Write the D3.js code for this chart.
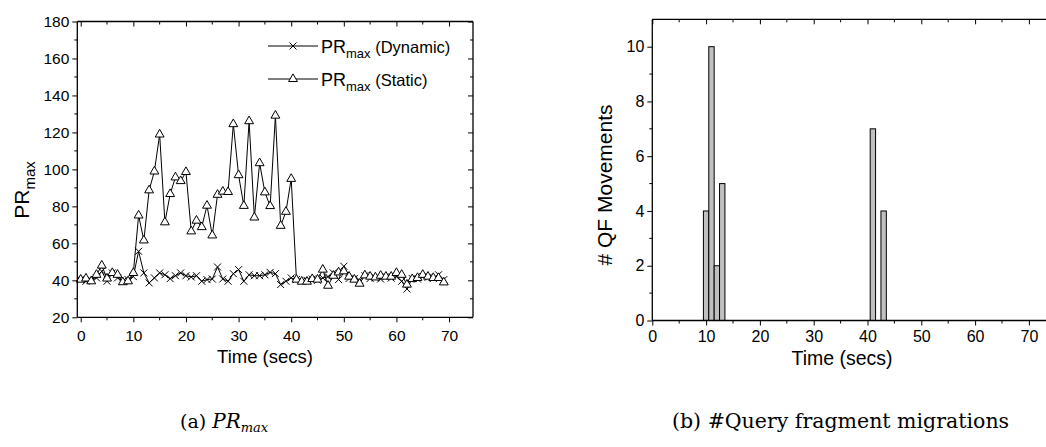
<!DOCTYPE html>
<html>
<head>
<meta charset="utf-8">
<script src="https://cdn.jsdelivr.net/npm/d3@7/dist/d3.min.js"></script>
<style>
  html, body { margin: 0; padding: 0; background: #fff; }
  svg { display: block; }
  text { fill: #000; }
</style>
</head>
<body>
<svg id="fig" width="1046" height="447"></svg>
<script>
// Time axis (seconds) shared by both series of the left panel
const seconds = d3.range(0, 70);

// PR_max with dynamic query-fragment placement
const prDynamic = [
  40.4, 39.5, 40.0, 41.3, 44.9, 39.5, 44.0, 41.3, 39.5, 40.4,
  42.0, 55.7, 44.0, 38.6, 41.3, 44.0, 43.0, 40.9, 42.5, 44.0,
  42.5, 41.8, 42.5, 39.5, 40.4, 40.7, 47.2, 40.7, 39.5, 43.6,
  45.8, 39.5, 43.0, 42.5, 42.5, 43.0, 44.3, 43.6, 37.7, 39.5,
  41.3, 40.4, 39.5, 40.0, 40.7, 40.0, 41.3, 42.0, 44.0, 40.4,
  47.6, 41.0, 41.0, 40.0, 42.5, 41.0, 41.4, 40.7, 42.0, 41.2,
  42.0, 39.5, 35.3, 41.0, 40.7, 42.0, 41.6, 41.0, 43.0, 40.4
];

// PR_max with static placement
const prStatic = [
  40.4, 41.0, 39.5, 43.0, 48.0, 41.0, 44.0, 43.0, 39.0, 39.5,
  44.0, 75.1, 61.6, 88.7, 98.9, 118.9, 71.4, 86.7, 95.7, 93.7,
  98.6, 66.5, 72.3, 68.8, 80.4, 64.3, 86.3, 88.0, 87.8, 124.5,
  96.9, 80.3, 126.1, 74.0, 103.4, 87.6, 80.2, 129.1, 69.5, 77.1,
  94.9, 40.4, 39.3, 39.3, 40.7, 40.4, 45.8, 37.1, 42.5, 44.3,
  44.9, 42.0, 40.4, 38.2, 42.7, 42.0, 41.6, 42.5, 42.0, 42.0,
  44.0, 43.0, 37.7, 40.7, 41.3, 43.0, 42.0, 41.3, 41.3, 38.9
];

// Query fragment movements per second (right panel)
const moveTimes = [10, 11, 12, 13, 41, 43];
const moveCounts = [4, 10, 2, 5, 7, 4];

// Tick values
const leftXTicks = [0, 10, 20, 30, 40, 50, 60, 70];
const leftYTicks = [20, 40, 60, 80, 100, 120, 140, 160, 180];
const rightXTicks = [0, 10, 20, 30, 40, 50, 60, 70];
const rightYTicks = [0, 2, 4, 6, 8, 10];

const svg = d3.select("#fig");
const SANS = "'Liberation Sans', Arial, sans-serif";
const SERIF = "'DejaVu Serif', 'Liberation Serif', serif";

// Draws a framed Origin-style plot: outward ticks on bottom/left,
// inward mirror ticks on top/right, minor ticks halfway between majors.
function frame(g, x, y, xt, yt, opts) {
  const [x0, x1] = x.range();
  const [y0, y1] = y.range(); // y0 bottom, y1 top
  const majL = 5, minL = 3;
  const xMinor = xt.slice(0, -1).map((v, i) => (v + xt[i + 1]) / 2)
    .concat([xt[xt.length - 1] + (xt[1] - xt[0]) / 2]);
  const yMinor = yt.slice(0, -1).map((v, i) => (v + yt[i + 1]) / 2);
  const xDom = x.domain(), yDom = y.domain();
  const inX = v => v >= xDom[0] && v <= xDom[1];
  const inY = v => v >= yDom[0] && v <= yDom[1];

  // bottom axis
  const bx = g.append("g").attr("transform", `translate(0,${y0})`)
    .call(d3.axisBottom(x).tickValues(xt).tickSize(majL).tickPadding(opts.xPad).tickFormat(d3.format("d")));
  bx.select(".domain").remove();
  bx.selectAll("text").attr("font-family", SANS).attr("font-size", opts.tickFont);
  // left axis
  const ly = g.append("g").attr("transform", `translate(${x0},0)`)
    .call(d3.axisLeft(y).tickValues(yt).tickSize(majL).tickPadding(3).tickFormat(d3.format("d")));
  ly.select(".domain").remove();
  ly.selectAll("text").attr("font-family", SANS).attr("font-size", opts.tickFont);
  // top axis ticks (inward)
  const tx = g.append("g").attr("transform", `translate(0,${y1})`)
    .call(d3.axisBottom(x).tickValues(xt).tickSize(majL).tickFormat(""));
  tx.select(".domain").remove();
  // right axis ticks (inward)
  if (opts.rightBorder) {
    const ry = g.append("g").attr("transform", `translate(${x1},0)`)
      .call(d3.axisLeft(y).tickValues(yt).tickSize(majL).tickFormat(""));
    ry.select(".domain").remove();
  }
  // minor ticks
  const mt = g.append("g").attr("stroke", "#000").attr("stroke-width", 1);
  xMinor.filter(inX).forEach(v => {
    mt.append("line").attr("x1", x(v)).attr("x2", x(v)).attr("y1", y0).attr("y2", y0 + minL);
    mt.append("line").attr("x1", x(v)).attr("x2", x(v)).attr("y1", y1).attr("y2", y1 + minL);
  });
  yMinor.filter(inY).forEach(v => {
    mt.append("line").attr("x1", x0 - minL).attr("x2", x0).attr("y1", y(v)).attr("y2", y(v));
    if (opts.rightBorder)
      mt.append("line").attr("x1", x1 - minL).attr("x2", x1).attr("y1", y(v)).attr("y2", y(v));
  });
  // frame lines
  const fr = g.append("g").attr("stroke", "#000").attr("stroke-width", 1.3).attr("fill", "none");
  fr.append("line").attr("x1", x0).attr("x2", x1).attr("y1", y0).attr("y2", y0);
  fr.append("line").attr("x1", x0).attr("x2", x1).attr("y1", y1).attr("y2", y1);
  fr.append("line").attr("x1", x0).attr("x2", x0).attr("y1", y0).attr("y2", y1);
  if (opts.rightBorder)
    fr.append("line").attr("x1", x1).attr("x2", x1).attr("y1", y0).attr("y2", y1);
  g.selectAll(".tick line").attr("stroke", "#000").attr("stroke-width", 1);
}

// ---------- Left panel: PR_max over time ----------
const xL = d3.scaleLinear().domain([-0.65, 74.55]).range([77.3, 473]);
const yL = d3.scaleLinear().domain([20, 180]).range([317.3, 21.5]);
const gL = svg.append("g");

const triangle = d3.symbol().type(d3.symbolTriangle).size(34);
const lineGen = (vals) => d3.line().x((d, i) => xL(seconds[i])).y(d => yL(d))(vals);

// static series line
gL.append("path").attr("d", lineGen(prStatic))
  .attr("fill", "none").attr("stroke", "#000").attr("stroke-width", 1);
// dynamic series line
gL.append("path").attr("d", lineGen(prDynamic))
  .attr("fill", "none").attr("stroke", "#000").attr("stroke-width", 1);

function cross(sel, cx, cy, r) {
  sel.append("path")
    .attr("d", `M${cx - r},${cy - r}L${cx + r},${cy + r}M${cx - r},${cy + r}L${cx + r},${cy - r}`)
    .attr("stroke", "#000").attr("stroke-width", 1).attr("fill", "none");
}
const crossG = gL.append("g");
prDynamic.forEach((v, i) => cross(crossG, xL(seconds[i]), yL(v), 3.5));
gL.append("g").selectAll("path").data(prStatic).join("path")
  .attr("transform", (d, i) => `translate(${xL(seconds[i])},${yL(d)})`)
  .attr("d", triangle).attr("fill", "#fff").attr("stroke", "#000").attr("stroke-width", 1);

frame(gL, xL, yL, leftXTicks, leftYTicks, { tickFont: 15.5, rightBorder: true, xPad: 8 });

// legend
function legendRow(g, yPos, label, kind) {
  g.append("line").attr("x1", 268).attr("x2", 318).attr("y1", yPos).attr("y2", yPos)
    .attr("stroke", "#000").attr("stroke-width", 1);
  if (kind === "cross") cross(g, 293, yPos, 3.5);
  else g.append("path").attr("transform", `translate(293,${yPos})`).attr("d", triangle)
    .attr("fill", "#fff").attr("stroke", "#000");
  const t = g.append("text").attr("x", 321).attr("y", yPos + 7).attr("font-family", SANS);
  t.append("tspan").attr("font-size", 18).text("PR");
  t.append("tspan").attr("font-size", 13).attr("dy", 5).text("max");
  t.append("tspan").attr("font-size", 16.5).attr("dy", -5).text(" " + label);
}
const leg = gL.append("g");
legendRow(leg, 46, "(Dynamic)", "cross");
legendRow(leg, 79, "(Static)", "tri");

// axis titles
gL.append("text").attr("x", 265).attr("y", 363).attr("text-anchor", "middle")
  .attr("font-family", SANS).attr("font-size", 18.5).text("Time (secs)");
const yt = gL.append("text").attr("transform", "translate(29,190) rotate(-90)")
  .attr("text-anchor", "middle").attr("font-family", SANS);
yt.append("tspan").attr("font-size", 21).text("PR");
yt.append("tspan").attr("font-size", 15).attr("dy", 6).text("max");

// ---------- Right panel: query fragment movements ----------
const xR = d3.scaleLinear().domain([0, 75]).range([652.3, 1055.8]);
const yR = d3.scaleLinear().domain([0, 11]).range([320.5, 19.3]);
const gR = svg.append("g");

gR.append("g").selectAll("rect").data(moveTimes).join("rect")
  .attr("x", d => xR(d - 0.5))
  .attr("width", d => xR(d + 0.5) - xR(d - 0.5))
  .attr("y", (d, i) => yR(moveCounts[i]))
  .attr("height", (d, i) => yR(0) - yR(moveCounts[i]))
  .attr("fill", "#c0c0c0").attr("stroke", "#000").attr("stroke-width", 1);

frame(gR, xR, yR, rightXTicks, rightYTicks, { tickFont: 16, rightBorder: false, xPad: 5 });

gR.append("text").attr("x", 842).attr("y", 365).attr("text-anchor", "middle")
  .attr("font-family", SANS).attr("font-size", 19.5).text("Time (secs)");
gR.append("text").attr("transform", "translate(612,185) rotate(-90)")
  .attr("text-anchor", "middle").attr("font-family", SANS).attr("font-size", 21)
  .text("# QF Movements");

// ---------- Sub-figure captions ----------
const capA = svg.append("text").attr("x", 180).attr("y", 428)
  .attr("font-family", SERIF).attr("font-size", 19);
capA.append("tspan").text("(a)  ");
capA.append("tspan").attr("font-style", "italic").attr("font-size", 20).text("PR");
capA.append("tspan").attr("font-style", "italic").attr("font-size", 13).attr("dy", 4).text("max");

svg.append("text").attr("x", 672).attr("y", 428)
  .attr("font-family", SERIF).attr("font-size", 20.5)
  .text("(b) #Query fragment migrations");
</script>
</body>
</html>
